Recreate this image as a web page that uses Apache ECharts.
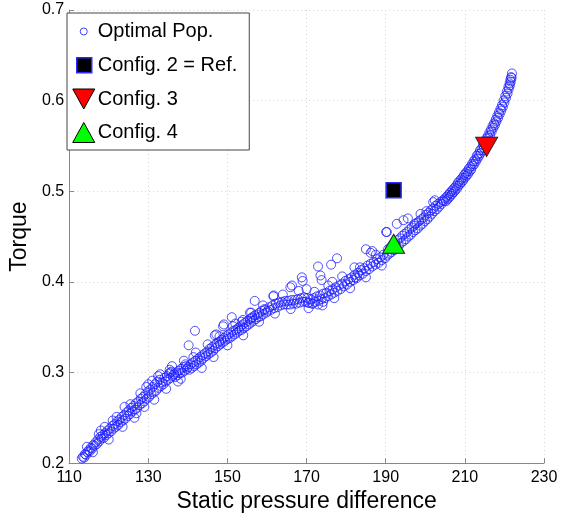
<!DOCTYPE html>
<html>
<head>
<meta charset="utf-8">
<script src="https://cdn.jsdelivr.net/npm/echarts@6/dist/echarts.min.js"></script>
<style>
  html, body { margin: 0; padding: 0; background: #fff; }
  #main { width: 561px; height: 518px; }
</style>
</head>
<body>
<div id="main"></div>
<script>
// optimal population (static pressure difference, torque)
var optimalPop = [
  [113.2,0.205],[113.5,0.207],[113.8,0.206],[114.0,0.210],[114.3,0.209],[114.6,0.212],[114.9,0.214],[115.2,0.213],
  [115.5,0.217],[115.8,0.216],[116.1,0.220],[116.4,0.219],[116.7,0.223],[117.0,0.221],[117.3,0.226],[117.6,0.224],
  [117.9,0.229],[118.2,0.227],[118.5,0.231],[118.8,0.228],[119.1,0.233],[119.4,0.231],[119.7,0.236],[120.0,0.233],
  [120.3,0.238],[120.6,0.235],[120.9,0.241],[121.2,0.238],[121.5,0.243],[121.8,0.240],[122.1,0.246],[122.4,0.242],
  [122.7,0.248],[123.0,0.245],[123.3,0.251],[123.6,0.247],[123.9,0.253],[124.2,0.249],[124.5,0.256],[124.8,0.252],
  [125.1,0.258],[125.4,0.254],[125.7,0.261],[126.0,0.257],[126.3,0.263],[126.6,0.259],[126.9,0.266],[127.2,0.261],
  [127.5,0.268],[127.8,0.264],[128.1,0.271],[128.4,0.266],[128.7,0.273],[129.0,0.268],[129.3,0.276],[129.6,0.271],
  [129.9,0.279],[130.2,0.273],[130.5,0.281],[130.8,0.276],[131.1,0.284],[131.4,0.278],[131.7,0.287],[132.0,0.280],
  [132.3,0.290],[132.6,0.283],[132.9,0.292],[133.2,0.285],[133.5,0.289],[133.8,0.287],[134.1,0.294],[134.4,0.290],
  [134.7,0.296],[135.0,0.292],[135.3,0.299],[135.6,0.294],[135.9,0.301],[136.2,0.296],[136.5,0.298],[136.8,0.295],
  [137.1,0.300],[137.4,0.297],[137.7,0.302],[138.0,0.299],[138.3,0.304],[138.6,0.300],[138.9,0.306],[139.2,0.302],
  [139.5,0.307],[139.8,0.304],
  [124.0,0.262],[126.5,0.250],[128.0,0.277],[130.0,0.287],[131.0,0.291],[132.5,0.296],[129.0,0.262],[121.0,0.247],
  [119.0,0.240],[117.5,0.232],[135.6,0.300],[135.4,0.303],[139.4,0.309],
  [114.5,0.218],[116.0,0.212],[118.0,0.236],[120.0,0.226],[122.0,0.251],[123.5,0.240],[125.5,0.265],[127.0,0.255],
  [129.5,0.284],[131.5,0.270],[133.0,0.298],[134.5,0.282],[136.0,0.307],[137.5,0.290],[139.0,0.313],[138.2,0.293],
  [140.1,0.306],[140.4,0.303],[140.7,0.309],[141.0,0.305],[141.3,0.311],[141.6,0.307],[141.9,0.313],[142.2,0.309],
  [142.5,0.315],[142.8,0.311],[143.1,0.317],[143.4,0.313],[143.7,0.319],[144.0,0.316],[144.3,0.321],[144.6,0.318],
  [144.9,0.323],[145.2,0.320],[145.5,0.326],[145.8,0.322],[146.1,0.328],[146.4,0.324],[146.7,0.330],[147.0,0.327],
  [147.3,0.332],[147.6,0.329],[147.9,0.334],[148.2,0.331],[148.5,0.336],[148.8,0.333],[149.1,0.338],[149.4,0.335],
  [149.7,0.340],[150.0,0.337],[150.3,0.342],[150.6,0.338],[150.9,0.344],[151.2,0.340],[151.5,0.346],[151.8,0.342],
  [152.1,0.347],[152.4,0.344],[152.7,0.349],[153.0,0.346],[153.3,0.351],[153.6,0.347],[153.9,0.353],[154.2,0.349],
  [154.5,0.355],[154.8,0.351],[155.1,0.357],[155.4,0.353],[155.7,0.359],[156.0,0.355],[156.3,0.361],[156.6,0.357],
  [156.9,0.363],[157.2,0.359],[157.5,0.364],[157.8,0.361],[158.1,0.366],[158.4,0.362],[158.7,0.368],[159.0,0.364],
  [159.4,0.369],[159.8,0.366],
  [141.8,0.346],[140.2,0.330],[141.4,0.317],[146.8,0.341],[147.2,0.342],[148.9,0.351],[149.1,0.353],[151.1,0.361],
  [151.4,0.351],[153.6,0.356],[153.9,0.358],[155.7,0.366],[156.1,0.360],[156.9,0.379],[159.4,0.370],[161.6,0.384],
  [142.0,0.322],[143.5,0.305],[145.0,0.331],[146.5,0.317],[148.0,0.340],[150.0,0.330],[152.0,0.354],[154.0,0.341],
  [156.0,0.366],[158.0,0.356],[159.0,0.374],
  [160.2,0.368],[160.6,0.372],[161.0,0.369],[161.4,0.374],[161.8,0.371],[162.2,0.376],[162.6,0.372],[163.0,0.377],
  [163.4,0.374],[163.8,0.378],[164.2,0.375],[164.6,0.379],[165.0,0.375],[165.4,0.379],[165.8,0.375],[166.2,0.380],
  [166.6,0.376],[167.0,0.380],[167.4,0.376],[167.8,0.381],[168.2,0.377],[168.6,0.382],[169.0,0.378],[169.4,0.383],
  [169.8,0.378],[170.2,0.382],[170.6,0.377],[171.0,0.381],[171.4,0.376],[171.8,0.382],[172.2,0.378],[172.6,0.384],
  [173.0,0.379],[173.4,0.385],[173.8,0.381],[174.2,0.387],[174.6,0.382],[175.0,0.388],[175.4,0.384],[175.8,0.390],
  [176.2,0.386],[176.6,0.392],[177.0,0.388],[177.4,0.394],[177.8,0.390],[178.2,0.396],[178.6,0.392],[179.0,0.398],
  [179.4,0.395],[179.8,0.401],[180.2,0.397],[180.6,0.403],[181.0,0.400],[181.4,0.405],[181.8,0.402],[182.2,0.408],
  [182.6,0.404],[183.0,0.410],[183.4,0.407],[183.8,0.413],[184.2,0.409],[184.6,0.415],[185.0,0.412],[185.4,0.418],
  [185.8,0.414],[186.2,0.420],[186.6,0.417],[187.0,0.422],[187.4,0.419],[187.8,0.425],[188.2,0.421],[188.6,0.427],
  [189.0,0.424],[189.4,0.430],[189.8,0.426],
  [161.7,0.385],[166.3,0.396],[165.9,0.394],[168.8,0.405],[169.0,0.401],[170.0,0.392],[172.9,0.417],[173.5,0.407],
  [173.8,0.402],[176.2,0.419],[177.7,0.426],[176.5,0.400],[182.1,0.416],[182.3,0.405],[185.0,0.436],[186.6,0.434],
  [186.2,0.432],[190.1,0.455],[170.4,0.377],[171.6,0.376],[172.9,0.375],[174.2,0.378],
  [162.0,0.365],[164.0,0.386],[166.0,0.370],[168.0,0.390],[170.5,0.371],[172.0,0.389],[174.0,0.374],[175.5,0.396],
  [177.0,0.382],[179.0,0.406],[181.0,0.393],[183.5,0.416],[185.0,0.405],[187.5,0.430],[189.0,0.418],
  [190.3,0.429],[190.6,0.436],[190.9,0.431],[191.2,0.438],[191.5,0.433],[191.8,0.441],[192.1,0.435],[192.4,0.443],
  [192.7,0.438],[193.0,0.446],[193.3,0.440],[193.6,0.448],[193.9,0.443],[194.2,0.451],[194.5,0.445],[194.8,0.453],
  [195.1,0.447],[195.4,0.455],[195.7,0.450],[196.0,0.458],[196.3,0.452],[196.6,0.460],[196.9,0.455],[197.2,0.462],
  [197.5,0.457],[197.8,0.465],[198.1,0.459],[198.4,0.467],[198.7,0.462],[199.0,0.469],[199.3,0.464],[199.6,0.471],
  [199.9,0.467],[200.2,0.474],[200.5,0.469],[200.8,0.476],[201.1,0.472],[201.4,0.479],[201.7,0.475],[202.0,0.481],
  [202.3,0.478],[202.6,0.484],[202.9,0.480],[203.2,0.486],[203.5,0.483],[203.8,0.488],[204.1,0.486],[204.4,0.490],
  [204.7,0.489],
  [190.3,0.455],[192.8,0.464],[194.5,0.468],[197.4,0.464],[200.3,0.478],[202.0,0.488],[202.4,0.490],[195.6,0.470],
  [198.8,0.475],
  [205.0,0.492],[205.2,0.489],[205.4,0.494],[205.6,0.491],[205.8,0.496],[206.0,0.493],[206.2,0.498],[206.4,0.495],
  [206.6,0.500],[206.8,0.497],[207.0,0.502],[207.2,0.499],[207.4,0.504],[207.6,0.501],[207.8,0.506],[208.0,0.503],
  [208.2,0.509],[208.4,0.506],[208.6,0.511],[208.8,0.508],[209.0,0.513],[209.2,0.510],[209.4,0.515],[209.6,0.512],
  [209.8,0.518],[210.0,0.515],[210.2,0.520],[210.4,0.517],[210.6,0.522],[210.8,0.519],[211.0,0.525],[211.2,0.522],
  [211.4,0.527],[211.6,0.524],[211.8,0.530],[212.0,0.528],[212.2,0.533],[212.4,0.530],[212.6,0.535],[212.8,0.533],
  [213.0,0.539],[213.2,0.536],[213.4,0.541],[213.6,0.539],[213.8,0.545],[214.0,0.542],[214.2,0.547],[214.4,0.545],
  [214.6,0.551],[214.8,0.548],[215.0,0.555],[215.2,0.552],[215.4,0.558],[215.6,0.555],[215.8,0.561],[216.0,0.559],
  [216.2,0.565],[216.4,0.562],[216.6,0.568],[216.8,0.566],[217.0,0.572],[217.2,0.570],[217.4,0.575],[217.6,0.573],
  [217.8,0.579],[218.0,0.577],[218.2,0.583],[218.4,0.581],[218.6,0.587],[218.8,0.585],[219.0,0.591],[219.2,0.589],
  [219.4,0.595],[219.6,0.593],[219.8,0.600],[220.0,0.598],[220.2,0.605],[220.4,0.603],[220.6,0.610],[220.8,0.608],
  [221.0,0.615],[221.1,0.613],[221.3,0.619],[221.4,0.617],[221.5,0.623],[221.6,0.621],[221.7,0.626],[221.8,0.625],
  [221.9,0.630]
];
var config2 = [[192.0, 0.501]];
var config3 = [[215.5, 0.549]];
var config4 = [[192.0, 0.442]];
var seriesNames = ['Optimal Pop.', 'Config. 2 = Ref.', 'Config. 3', 'Config. 4'];
var xTicks = { min: 110, max: 230, interval: 20 };
var yTicks = { min: 0.2, max: 0.7, interval: 0.1 };

var FONT = 'Liberation Sans';
var triDown = 'path://M0,0L22,0L11,20Z';
var triUp = 'path://M11,0L22,20L0,20Z';

var myChart = echarts.init(document.getElementById('main'));
var option = {
    animation: false,
    backgroundColor: '#fff',
    grid: { left: 62, right: 17, top: 10, bottom: 48 },
    legend: {
        orient: 'vertical',
        left: 67,
        top: 13,
        padding: [8, 12, 7, 5],
        itemWidth: 22,
        itemHeight: 20,
        itemGap: 12.5,
        backgroundColor: '#fff',
        borderColor: '#444',
        borderWidth: 1,
        borderRadius: 0,
        textStyle: { fontFamily: FONT, fontSize: 20, lineHeight: 20, color: '#000', padding: [0, 0, 0, -2] },
        data: [
            { name: seriesNames[0], icon: 'path://M0,0M22,20M14.5,10A3.5,3.5,0,1,1,7.5,10A3.5,3.5,0,1,1,14.5,10Z',
              itemStyle: { color: 'transparent', borderColor: '#4040ff', borderWidth: 1, opacity: 1 } },
            { name: seriesNames[1], icon: 'path://M0,0M22,20M4,2.5L19,2.5L19,17.5L4,17.5Z',
              itemStyle: { color: '#000', borderColor: '#2a2aff', borderWidth: 1.5, opacity: 1 } },
            { name: seriesNames[2], icon: triDown,
              itemStyle: { color: '#ff0000', borderColor: '#000', borderWidth: 1, opacity: 1 } },
            { name: seriesNames[3], icon: triUp,
              itemStyle: { color: '#00ff00', borderColor: '#000', borderWidth: 1, opacity: 1 } }
        ]
    },
    xAxis: {
        type: 'value',
        min: xTicks.min, max: xTicks.max, interval: xTicks.interval,
        name: 'Static pressure difference',
        nameLocation: 'middle',
        nameGap: 20,
        nameTextStyle: { fontFamily: FONT, fontSize: 23, color: '#000' },
        axisLine: { lineStyle: { color: '#888', width: 1 } },
        axisTick: { inside: true, length: 5, lineStyle: { color: '#888' } },
        axisLabel: { fontFamily: FONT, fontSize: 16, color: '#000', margin: 6 },
        splitLine: { show: true, lineStyle: { color: '#d4d4d4', type: [1, 3] } }
    },
    yAxis: {
        type: 'value',
        min: yTicks.min, max: yTicks.max, interval: yTicks.interval,
        name: 'Torque',
        nameLocation: 'middle',
        nameGap: 33,
        nameTextStyle: { fontFamily: FONT, fontSize: 23, color: '#000' },
        axisLine: { show: true, lineStyle: { color: '#888', width: 1 } },
        axisTick: { show: true, inside: true, length: 5, lineStyle: { color: '#888' } },
        axisLabel: { fontFamily: FONT, fontSize: 16, color: '#000', margin: 5,
            formatter: function (v) { return v.toFixed(1); } },
        splitLine: { show: true, lineStyle: { color: '#d4d4d4', type: [1, 3] } }
    },
    series: [
        {
            name: seriesNames[0],
            type: 'scatter',
            symbol: 'circle',
            symbolSize: 9,
            itemStyle: { color: 'transparent', borderColor: '#1a1aff', borderWidth: 0.9, opacity: 0.85 },
            data: optimalPop,
            z: 2
        },
        {
            name: seriesNames[1],
            type: 'scatter',
            symbol: 'rect',
            symbolSize: 15,
            itemStyle: { color: '#000', borderColor: '#2a2aff', borderWidth: 1.5, opacity: 1 },
            data: config2,
            z: 3
        },
        {
            name: seriesNames[2],
            type: 'scatter',
            symbol: triDown,
            symbolSize: [22, 19],
            itemStyle: { color: '#ff0000', borderColor: '#222', borderWidth: 1, opacity: 1 },
            data: config3,
            z: 3
        },
        {
            name: seriesNames[3],
            type: 'scatter',
            symbol: triUp,
            symbolSize: [22, 19],
            itemStyle: { color: '#00ff00', borderColor: '#222', borderWidth: 1, opacity: 1 },
            data: config4,
            z: 3
        }
    ]
};
myChart.setOption(option);
window.addEventListener('resize', function () {
    myChart.resize();
});
</script>
</body>
</html>
